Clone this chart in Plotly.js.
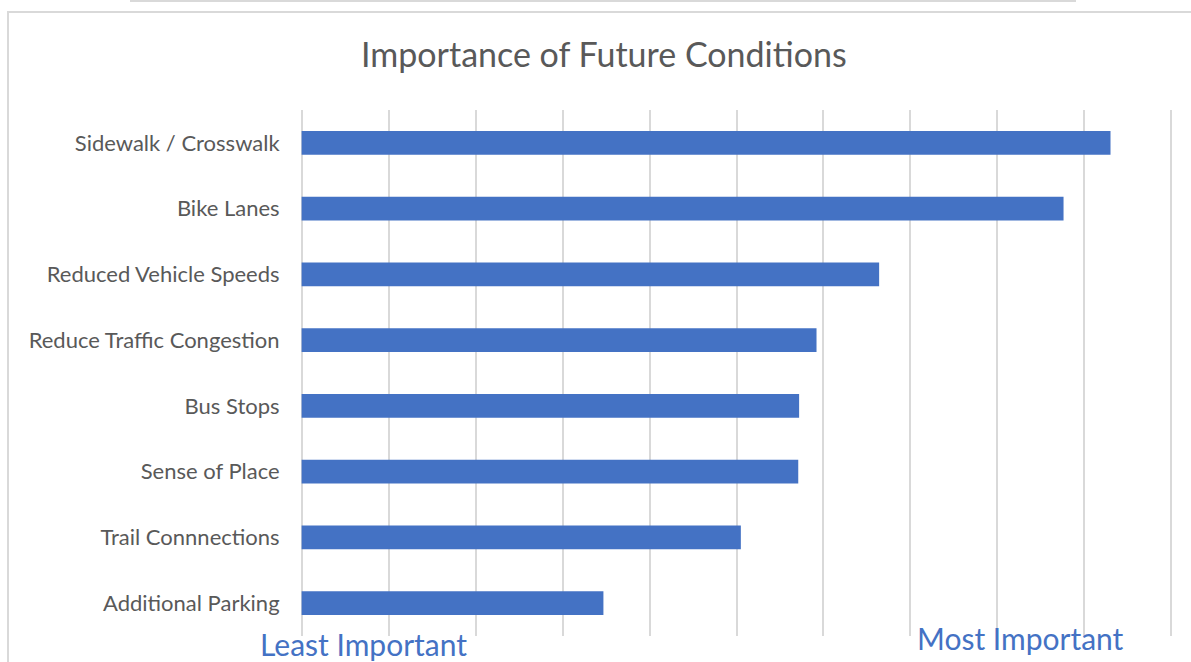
<!DOCTYPE html>
<html>
<head>
<meta charset="utf-8">
<script src="https://cdn.plot.ly/plotly-3.0.1.min.js"></script>
<style>
  html, body { margin: 0; padding: 0; background: #ffffff; }
  #wrap { position: relative; width: 1191px; height: 662px; overflow: hidden; }
  #topline { position: absolute; left: 130px; top: 0px; width: 946px; height: 0; border-top: 2px solid #d9d9d9; }
  #frame { position: absolute; left: 7px; top: 11px; width: 1200px; height: 700px; border-left: 2px solid #d9d9d9; border-top: 2px solid #d9d9d9; }
  #chart { position: absolute; left: 0; top: 0; width: 1191px; height: 662px; }
</style>
</head>
<body>
<div id="wrap">
  <div id="topline"></div>
  <div id="frame"></div>
  <div id="chart"></div>
</div>
<script>
const categories = [
  "Sidewalk / Crosswalk",
  "Bike Lanes",
  "Reduced Vehicle Speeds",
  "Reduce Traffic Congestion",
  "Bus Stops",
  "Sense of Place",
  "Trail Connnections",
  "Additional Parking"
];
const scores = [9.30, 8.76, 6.64, 5.92, 5.72, 5.71, 5.05, 3.47];
const chartTitle = "Importance of Future Conditions";
const lowLabel = "Least Important";
const highLabel = "Most Important";

const FONT = "Lato, 'Open Sans', sans-serif";
const BLUE = "#4472C4";

const trace = {
  type: "bar",
  orientation: "h",
  y: categories,
  x: scores,
  marker: { color: BLUE, line: { width: 0 } },
  hoverinfo: "x+y"
};

// plot area: value 0 at x=302px, value 10 at x=1171.5px; pad range a little so edge gridlines are drawn
const PAD = 0.03;
const UNIT = 86.95;

const layout = {
  width: 1191,
  height: 662,
  paper_bgcolor: "rgba(0,0,0,0)",
  plot_bgcolor: "rgba(0,0,0,0)",
  margin: { l: 302 - PAD * UNIT, r: 19.5 - PAD * UNIT, t: 110, b: 26, pad: 0 },
  showlegend: false,
  bargap: 0.635,
  title: {
    text: chartTitle,
    font: { family: FONT, size: 34, color: "#595959" },
    xref: "container", x: 0.507, xanchor: "center",
    yref: "container", y: 1 - 55 / 662, yanchor: "middle"
  },
  xaxis: {
    range: [-PAD, 10 + PAD],
    dtick: 1,
    tick0: 0,
    showgrid: true,
    gridcolor: "#d9d9d9",
    gridwidth: 2,
    zeroline: false,
    showline: false,
    showticklabels: false,
    ticks: "",
    fixedrange: true
  },
  yaxis: {
    autorange: "reversed",
    type: "category",
    showgrid: false,
    zeroline: false,
    showline: false,
    ticks: "outside",
    ticklen: 14,
    tickcolor: "rgba(0,0,0,0)",
    tickfont: { family: FONT, size: 22, color: "#595959" },
    fixedrange: true
  },
  annotations: [
    {
      text: lowLabel, xref: "x", yref: "paper",
      x: 0.713, y: (636 - 644) / 526,
      xanchor: "center", yanchor: "middle", showarrow: false,
      font: { family: FONT, size: 30, color: BLUE }
    },
    {
      text: highLabel, xref: "x", yref: "paper",
      x: 8.26, y: (636 - 638) / 526,
      xanchor: "center", yanchor: "middle", showarrow: false,
      font: { family: FONT, size: 30, color: BLUE }
    }
  ]
};

Plotly.newPlot("chart", [trace], layout, { displayModeBar: false, staticPlot: true });
</script>
</body>
</html>
